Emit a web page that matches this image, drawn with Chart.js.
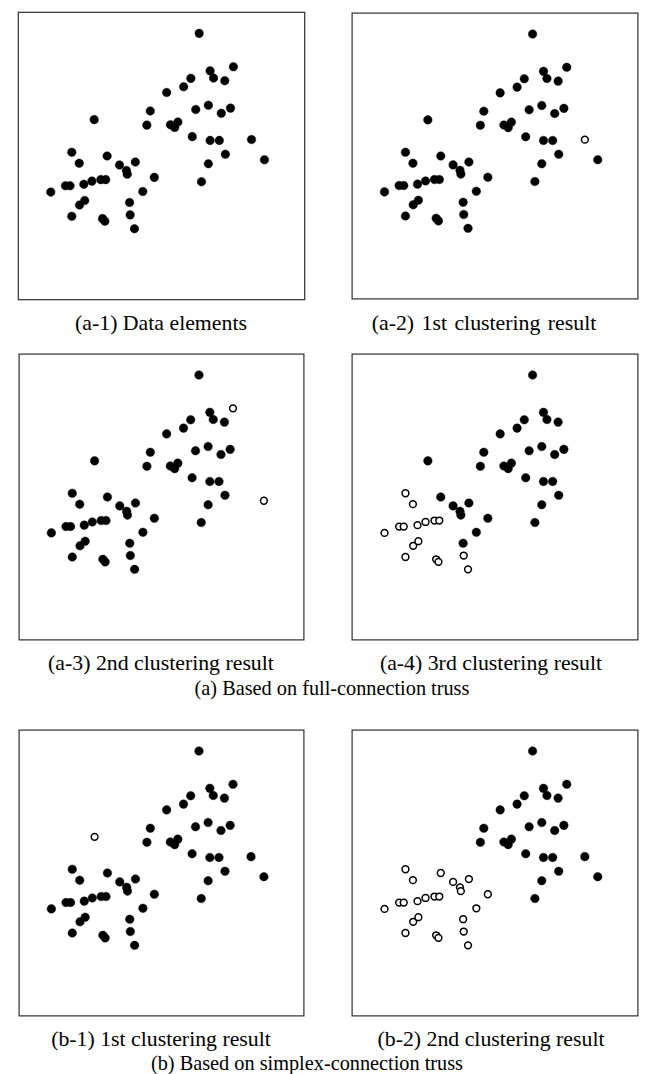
<!DOCTYPE html>
<html>
<head>
<meta charset="utf-8">
<script src="https://cdn.jsdelivr.net/npm/chart.js@4.4.1/dist/chart.umd.min.js"></script>
<style>
  html, body { margin: 0; padding: 0; background: #fff; }
  body { width: 647px; height: 1074px; position: relative; overflow: hidden; }
  .panel { position: absolute; }
  .cap {
    position: absolute;
    font-family: "Liberation Serif", "Times New Roman", serif;
    color: #000;
    white-space: nowrap;
    text-align: center;
    width: 400px;
  }
</style>
</head>
<body>
<script>
// Element coordinates (same plane in every panel)
const pointX = [
  6.31, 6.69, 6.81, 7.50, 7.20, 6.02, 5.77, 5.18, 4.61, 6.19,
  6.63, 7.40, 7.08, 2.66, 4.49, 5.31, 5.57, 5.46, 6.07, 6.69,
  7.01, 8.13, 7.22, 6.63, 8.58, 6.39,
  1.88, 2.14, 3.11, 3.54, 4.09, 3.78, 3.81, 4.75, 1.15, 1.66,
  1.82, 2.30, 2.58, 2.89, 3.06, 4.35, 2.15, 2.33, 3.89, 1.88,
  2.95, 3.03, 3.91, 4.06
];
const pointY = [
  9.25, 7.95, 7.70, 8.09, 7.61, 7.69, 7.40, 7.20, 6.56, 6.61,
  6.76, 6.66, 6.48, 6.26, 6.07, 6.08, 6.18, 5.99, 5.67, 5.54,
  5.54, 5.57, 5.06, 4.73, 4.87, 4.11,
  5.13, 4.75, 5.00, 4.69, 4.79, 4.50, 4.37, 4.26, 3.75, 3.97,
  3.97, 4.02, 4.13, 4.18, 4.18, 3.77, 3.30, 3.46, 3.39, 2.91,
  2.83, 2.74, 2.96, 2.48
];

// Index groups
const lowerGroup = [26, 27, 28, 29, 30, 31, 32, 33, 34, 35, 36, 37, 38, 39, 40, 41, 42, 43, 44, 45, 46, 47, 48, 49];
const lowerOuter = [26, 27, 34, 35, 36, 37, 38, 39, 40, 42, 43, 45, 46, 47, 48, 49];

// Sub-figure captions
const captions = [
  "(a-1) Data elements",
  "(a-2) 1st clustering result",
  "(a-3) 2nd clustering result",
  "(a-4) 3rd clustering result",
  "(b-1) 1st clustering result",
  "(b-2) 2nd clustering result"
];
const groupCaptions = [
  "(a) Based on full-connection truss",
  "(b) Based on simplex-connection truss"
];

// Per-panel state: open markers and elements already removed
const hollowIdx = [
  [],
  [21],
  [3, 24],
  lowerOuter,
  [13],
  lowerGroup
];
const removedIdx = [
  [],
  [],
  [21],
  [21, 3, 24],
  [],
  [13]
];

// Page layout
const colLeft = [13, 346];
const rowTop = [7, 348, 724];
const boxW = [297, 298];
const boxH = 298;
const capCenterX = [161, 484, 161, 491, 161, 491];
const capWordGap = [0, 2, 0, 0, 0, 0];
const capBaseline = [331, 671, 1047];
const groupCenterX = [332, 307];
const groupBaseline = [695, 1070];
const capSize = 21.8;
const groupSize = 20.3;

const frame = {
  id: 'frame',
  afterDraw(chart) {
    const a = chart.chartArea, ctx = chart.ctx;
    ctx.save();
    ctx.strokeStyle = '#2e2e2e';
    ctx.lineWidth = 1.2;
    ctx.strokeRect(a.left + 0.6, a.top + 0.6, a.right - a.left - 1.2, a.bottom - a.top - 1.2);
    ctx.restore();
  }
};

function addCaption(text, cx, baseline, size, gap) {
  const d = document.createElement('div');
  d.className = 'cap';
  d.textContent = text;
  d.style.fontSize = size + 'px';
  d.style.lineHeight = size + 'px';
  d.style.wordSpacing = (gap || 0) + 'px';
  d.style.left = (cx - 200) + 'px';
  d.style.top = (baseline - 0.8375 * size) + 'px';
  document.body.appendChild(d);
}

function buildPanel(p) {
  const col = p % 2;
  const row = p < 4 ? Math.floor(p / 2) : 2;
  const wrap = document.createElement('div');
  wrap.className = 'panel';
  wrap.style.left = colLeft[col] + 'px';
  wrap.style.top = rowTop[row] + 'px';
  const cv = document.createElement('canvas');
  cv.width = boxW[col];
  cv.height = boxH;
  cv.style.width = boxW[col] + 'px';
  cv.style.height = boxH + 'px';
  wrap.appendChild(cv);
  document.body.appendChild(wrap);

  const filled = [], hollow = [];
  for (let i = 0; i < pointX.length; i++) {
    if (removedIdx[p].includes(i)) continue;
    const pt = { x: pointX[i], y: pointY[i] };
    (hollowIdx[p].includes(i) ? hollow : filled).push(pt);
  }

  new Chart(cv, {
    type: 'scatter',
    data: {
      datasets: [
        { data: filled, pointRadius: 4.3, pointBackgroundColor: '#000', pointBorderColor: '#000', pointBorderWidth: 0.4 },
        { data: hollow, pointRadius: 3.4, pointBackgroundColor: '#fff', pointBorderColor: '#000', pointBorderWidth: 1.5 }
      ]
    },
    options: {
      responsive: false,
      animation: false,
      devicePixelRatio: 1,
      events: [],
      layout: { padding: 0 },
      plugins: { legend: { display: false }, tooltip: { enabled: false } },
      scales: {
        x: { type: 'linear', min: 0, max: 10, display: false },
        y: { type: 'linear', min: 0, max: 10, display: false }
      }
    },
    plugins: [frame]
  });

  addCaption(captions[p], capCenterX[p], capBaseline[row], capSize, capWordGap[p]);
}

for (let p = 0; p < 6; p++) buildPanel(p);

groupCaptions.forEach((t, g) => addCaption(t, groupCenterX[g], groupBaseline[g], groupSize, 0));
</script>
</body>
</html>
